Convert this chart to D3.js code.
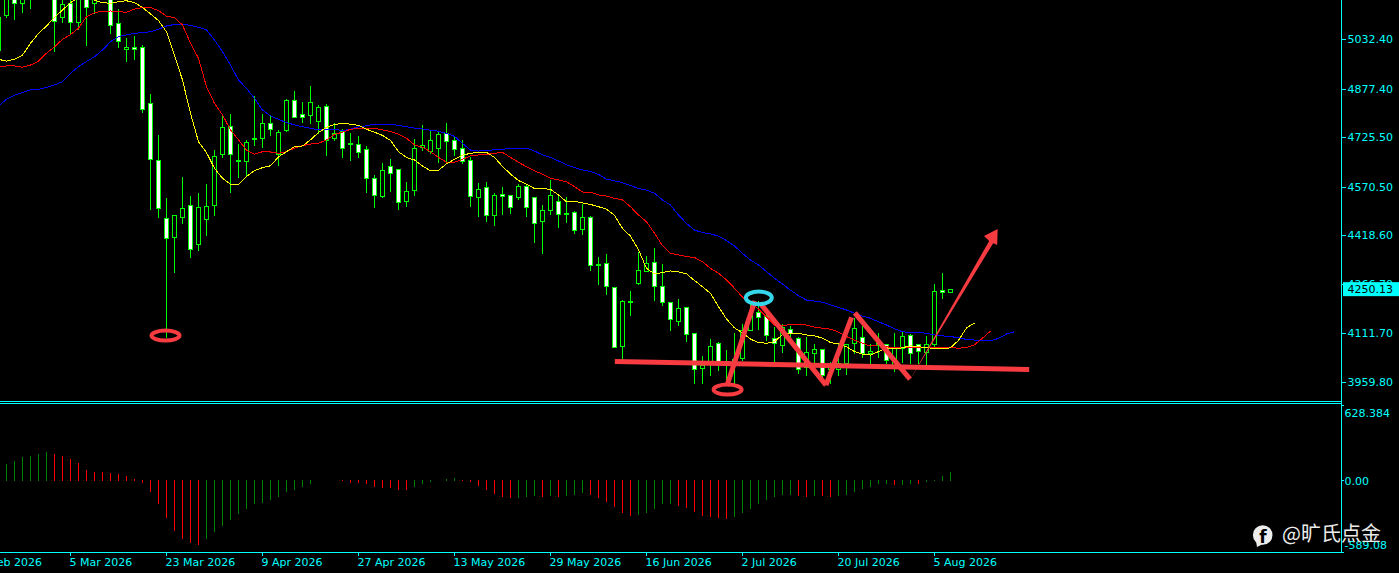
<!DOCTYPE html>
<html>
<head>
<meta charset="utf-8">
<title>chart</title>
<script src="https://cdn.jsdelivr.net/npm/d3@7/dist/d3.min.js"></script>
<style>
html, body { margin: 0; padding: 0; background: #000; overflow: hidden; }
svg { display: block; }
text { font-family: "DejaVu Sans", sans-serif; font-size: 11px; }
</style>
</head>
<body>
<svg width="1399" height="573"></svg>
<script>
// bars run from index -1 (only just visible at the left edge) to 118
const firstBar = -1;

const opens = [4998,
  5109,5175,5144,5190,5200,5190,5195,5102,5146,5084,
  5170,5146,5170,5190,5081,5000,5006,5006,4831,4653,
  4472,4412,4475,4512,4390,4469,4512,4672,4759,4653,
  4650,4722,4722,4769,4672,4747,4841,4797,4794,4775,
  4822,4722,4744,4706,4703,4687,4597,4543,4634,4625,
  4525,4559,4694,4681,4691,4737,4716,4691,4653,4537,
  4569,4481,4547,4544,4537,4572,4537,4462,4497,4525,
  4487,4490,4437,4475,4328,4331,4256,4071,4212,4268,
  4308,4334,4259,4209,4150,4193,4112,4005,4027,4081,
  4026,4032,4035,4122,4179,4166,4096,4074,4125,4096,
  4008,4052,4062,4000,4002,4018,4081,4100,4050,4085,
  4078,4008,4065,4106,4078,4053,4079,4248,4241];
const closes = [5101,
  5170,5144,5170,5165,5185,5205,5088,5142,5084,5175,
  5134,5165,5185,5077,5025,5006,5000,4815,4656,4503,
  4409,4481,4503,4375,4506,4509,4665,4756,4672,4652,
  4709,4719,4769,4750,4741,4841,4788,4788,4834,4819,
  4716,4737,4691,4703,4678,4597,4544,4622,4612,4522,
  4556,4691,4700,4716,4734,4712,4687,4650,4540,4562,
  4481,4544,4540,4506,4572,4506,4456,4497,4544,4484,
  4486,4434,4475,4325,4327,4259,4068,4212,4211,4309,
  4331,4259,4209,4156,4190,4109,4000,4013,4072,4023,
  4017,4020,4122,4175,4164,4106,4081,4133,4112,4000,
  4053,4062,3982,4010,4018,4078,4128,4050,4056,4076,
  4028,4065,4103,4050,4056,4078,4244,4241,4250];
const highs = [5101,
  5180,5190,5185,5200,5215,5220,5205,5165,5160,5190,
  5185,5180,5200,5205,5128,5038,5044,5016,4865,4734,
  4537,4484,4603,4544,4553,4581,4687,4794,4800,4706,
  4719,4856,4800,4794,4750,4847,4873,4838,4888,4828,
  4831,4772,4753,4741,4731,4700,4609,4647,4659,4628,
  4587,4722,4767,4750,4747,4772,4728,4719,4665,4584,
  4587,4553,4572,4547,4581,4581,4537,4515,4594,4547,
  4540,4497,4519,4481,4353,4362,4256,4218,4246,4368,
  4356,4381,4331,4214,4221,4193,4115,4044,4097,4087,
  4063,4116,4143,4206,4216,4175,4135,4143,4138,4104,
  4104,4081,4065,4026,4081,4078,4164,4138,4081,4115,
  4081,4115,4122,4112,4081,4107,4269,4304,4250];
const lows = [4998,
  5102,5094,5117,5129,5165,5170,4996,5084,5050,5063,
  5015,5113,5160,5052,5008,4965,4971,4805,4502,4477,
  4102,4305,4456,4350,4373,4418,4481,4662,4553,4600,
  4606,4700,4696,4731,4637,4744,4788,4772,4769,4738,
  4669,4716,4664,4655,4664,4555,4508,4539,4558,4500,
  4511,4546,4685,4675,4647,4644,4669,4644,4511,4480,
  4464,4452,4486,4489,4533,4480,4399,4364,4486,4446,
  4461,4427,4424,4311,4267,4236,4068,4031,4170,4265,
  4306,4217,4202,4121,4137,4089,3958,3958,3981,3997,
  3956,3956,4029,4122,4126,4091,4023,4053,4104,3987,
  3982,4008,3966,3956,3982,3985,4050,4039,4018,4039,
  4018,3995,4023,4018,4018,4013,4066,4222,4241];

// alligator lines, already shifted forward so they run past the last bar
const lips = [4969,
  4963,4969,4982,5019,5050,5073,5100,5123,5146,5161,
  5163,5154,5146,5144,5149,5152,5146,5131,5111,5090,
  5055,4982,4904,4800,4711,4677,4628,4597,4578,4578,
  4602,4621,4630,4636,4664,4680,4696,4698,4717,4740,
  4756,4765,4769,4766,4762,4750,4741,4731,4715,4680,
  4662,4654,4635,4620,4622,4642,4656,4669,4675,4678,
  4678,4662,4634,4610,4590,4578,4565,4565,4562,4545,
  4523,4525,4520,4515,4508,4500,4481,4440,4416,4373,
  4315,4298,4302,4307,4304,4298,4277,4258,4237,4195,
  4157,4129,4113,4094,4083,4081,4086,4108,4112,4112,
  4107,4104,4097,4083,4079,4070,4055,4047,4044,4055,
  4067,4063,4067,4073,4070,4067,4065,4063,4067,4090,
  4129,4144];
const teeth = [4944,
  4948,4948,4944,4951,4963,4988,5008,5031,5046,5066,
  5102,5115,5119,5120,5118,5116,5126,5131,5131,5121,
  5104,5099,5076,5019,4972,4883,4831,4795,4748,4717,
  4685,4672,4680,4679,4675,4680,4691,4699,4704,4706,
  4717,4734,4741,4750,4753,4753,4753,4748,4743,4735,
  4722,4701,4694,4680,4662,4647,4647,4656,4667,4670,
  4672,4675,4678,4662,4647,4633,4620,4610,4597,4592,
  4586,4571,4554,4553,4545,4541,4534,4529,4508,4482,
  4461,4425,4386,4362,4357,4352,4349,4336,4315,4300,
  4279,4253,4225,4207,4188,4163,4138,4137,4139,4140,
  4138,4131,4128,4125,4116,4102,4091,4081,4072,4076,
  4070,4067,4067,4068,4067,4067,4068,4069,4068,4065,
  4068,4076,4097,4119];
const jaw = [4823,
  4844,4857,4865,4873,4875,4881,4889,4899,4925,4946,
  4962,4977,4998,5024,5040,5045,5050,5053,5055,5063,
  5073,5078,5079,5075,5069,5061,5029,4993,4951,4904,
  4878,4847,4810,4792,4781,4771,4764,4758,4753,4748,
  4750,4750,4746,4750,4758,4761,4766,4766,4766,4762,
  4758,4754,4751,4747,4744,4737,4728,4706,4685,4682,
  4684,4686,4687,4691,4691,4691,4682,4670,4662,4651,
  4639,4630,4623,4618,4609,4594,4589,4583,4574,4565,
  4560,4550,4529,4513,4482,4456,4435,4427,4423,4416,
  4402,4385,4362,4341,4326,4305,4284,4266,4247,4230,
  4216,4213,4209,4201,4193,4185,4175,4166,4159,4148,
  4138,4126,4117,4114,4115,4112,4107,4104,4102,4098,
  4093,4091,4089,4089,4096,4110,4117];

// lower pane histogram, starts at bar 0
const osc = [136,161,194,203,219,236,219,203,178,145,
  87,70,69,62,54,37,12,-21,-95,-194,
  -310,-418,-484,-517,-533,-484,-426,-376,-327,-277,
  -236,-194,-186,-161,-136,-95,-79,-54,-29,0,
  0,0,-4,-21,-23,-29,-54,-62,-63,-79,
  -80,-54,-29,-12,0,12,21,4,-10,-45,
  -79,-112,-136,-145,-142,-136,-128,-136,-128,-136,
  -128,-120,-103,-120,-145,-178,-219,-269,-294,-285,
  -269,-236,-196,-193,-211,-227,-261,-294,-302,-310,
  -319,-302,-269,-236,-194,-161,-136,-120,-118,-128,
  -136,-128,-130,-136,-128,-120,-95,-70,-54,-31,
  -29,-38,-35,-29,-31,-12,-4,37,70];

const priceTicks = [5032.40, 4877.40, 4725.50, 4570.50, 4418.60, 4266.70, 4111.70, 3959.80];
const dateBars = [-4, 8, 20, 32, 44, 56, 68, 80, 92, 104, 116];
const dateLabels = ["17 Feb 2026", "5 Mar 2026", "23 Mar 2026", "9 Apr 2026", "27 Apr 2026", "13 May 2026",
  "29 May 2026", "16 Jun 2026", "2 Jul 2026", "20 Jul 2026", "5 Aug 2026"];
const lastPrice = 4250.13;

// hand drawn marks on the chart, as [bar, price]
const redRings = [[19.94, 4105], [90.2, 3936]];
const blueRings = [[94.1, 4223]];
const supportLine = [[76.1, 4024], [127.9, 3999]];
const zigzag = [
  [[90.1, 3947], [93.6, 4213]],
  [[94.25, 4207], [102.5, 3950]],
  [[102.5, 3950], [105.7, 4162]],
  [[106.1, 4176], [113, 3969]]
];
const arrowShape = [[112.9, 3963], [122.9, 4401], [122.25, 4416], [123.96, 4438], [123.9, 4388], [123.4, 4394]];

const axisColor = "#00ffff";
const markRed = "#f73b40";

const svg = d3.select("svg");

const x = d3.scaleLinear().domain([0, 118]).range([6, 950]);
const y = d3.scaleLinear().domain([3959.8, 5032.4]).range([382, 39]);
const yOsc = d3.scaleLinear().domain([-589.08, 628.384]).range([551.7, 404.5]);

// pixel centre of a bar
const px = i => Math.round(x(i)) + 0.5;
const py = v => Math.round(y(v)) + 0.5;

svg.append("clipPath").attr("id", "plot").append("rect")
  .attr("width", 1341).attr("height", 400);

const plot = svg.append("g").attr("clip-path", "url(#plot)");

// candles
const bars = opens.map((o, k) => ({ i: k + firstBar, o: o, c: closes[k], h: highs[k], l: lows[k] }));

plot.append("g").selectAll("line").data(bars).enter().append("line")
  .attr("x1", d => px(d.i)).attr("x2", d => px(d.i))
  .attr("y1", d => py(d.h)).attr("y2", d => py(d.l))
  .attr("stroke", "#00ff00").attr("shape-rendering", "crispEdges");

plot.append("g").selectAll("rect").data(bars).enter().append("rect")
  .attr("x", d => px(d.i) - 2)
  .attr("width", 4)
  .attr("y", d => py(Math.max(d.o, d.c)))
  .attr("height", d => Math.max(py(Math.min(d.o, d.c)) - py(Math.max(d.o, d.c)), 1))
  .attr("fill", d => d.c < d.o ? "#fff" : "#000")
  .attr("stroke", "#00ff00")
  .attr("shape-rendering", "crispEdges");

// alligator
const lineGen = d3.line().x((d, k) => x(k + firstBar) + 0.5).y(d => y(d));
[[jaw, "#0000ff"], [teeth, "#ff0000"], [lips, "#ffff00"]].forEach(s => {
  plot.append("path").attr("d", lineGen(s[0]))
    .attr("fill", "none").attr("stroke", s[1]).attr("stroke-width", 1)
    .attr("shape-rendering", "crispEdges");
});

// histogram
svg.append("g").selectAll("line").data(osc).enter().append("line")
  .attr("x1", (d, k) => px(k)).attr("x2", (d, k) => px(k))
  .attr("y1", d => yOsc(d)).attr("y2", d => d > 0 ? yOsc(0) + 1 : yOsc(0))
  .attr("stroke", (d, k) => k > 0 && d < osc[k - 1] ? "#ff0000" : "#008000")
  .attr("shape-rendering", "crispEdges");

// frame
const frame = svg.append("g").attr("stroke", axisColor).attr("shape-rendering", "crispEdges");
frame.append("line").attr("x1", 1341.5).attr("x2", 1341.5).attr("y1", 0).attr("y2", 552);
[401.5, 403.5, 552.5].forEach(v => {
  frame.append("line").attr("x1", 0).attr("x2", 1341.5).attr("y1", v).attr("y2", v);
});

// axes
const yAxis = d3.axisRight(y).tickValues(priceTicks).tickFormat(d3.format(".2f"))
  .tickSize(4).tickPadding(2);
const gy = svg.append("g").attr("transform", "translate(1341.5,0)").call(yAxis);

const oscTicks = [628.384, 0, -589.08];
const oscLabels = ["628.384", "0.00", "-589.08"];
const oscDy = [8, 0, -7];
const yOscAxis = d3.axisRight(yOsc).tickValues(oscTicks).tickFormat((d, i) => oscLabels[i])
  .tickSize(2).tickPadding(1);
const gyo = svg.append("g").attr("transform", "translate(1341.5,0)").call(yOscAxis);
gyo.selectAll("text").attr("transform", (d, i) => "translate(0," + oscDy[i] + ")");

const xAxis = d3.axisBottom(x).tickValues(dateBars).tickFormat((d, i) => dateLabels[i])
  .tickSize(3).tickPadding(3);
const gx = svg.append("g").attr("transform", "translate(0,552.5)").call(xAxis);
gx.selectAll("text").attr("text-anchor", "start").attr("dx", -1);

[gy, gyo, gx].forEach(g => {
  g.select(".domain").remove();
  g.attr("font-family", null).attr("font-size", null);
  g.selectAll("line").attr("stroke", axisColor).attr("shape-rendering", "crispEdges");
  g.selectAll("text").attr("fill", axisColor);
});

// current price box
svg.append("rect").attr("x", 1343).attr("y", y(lastPrice) - 7).attr("width", 56).attr("height", 14)
  .attr("fill", axisColor);
svg.append("text").attr("x", 1347.5).attr("y", y(lastPrice)).attr("dy", "0.36em")
  .attr("fill", "#000").text(d3.format(".2f")(lastPrice));

// drawn marks
const marks = svg.append("g").attr("fill", "none").attr("stroke", markRed);
const seg = d3.line().x(d => x(d[0])).y(d => y(d[1]));

marks.append("path").attr("d", seg(supportLine)).attr("stroke-width", 5);
marks.selectAll("path.leg").data(zigzag).enter().append("path").attr("class", "leg")
  .attr("d", d => seg(d)).attr("stroke-width", 5);
marks.append("path").attr("d", seg(arrowShape) + "Z").attr("fill", markRed).attr("stroke", "none");

marks.selectAll("ellipse.r").data(redRings).enter().append("ellipse").attr("class", "r")
  .attr("cx", d => x(d[0])).attr("cy", d => y(d[1]))
  .attr("rx", 14).attr("ry", 5).attr("stroke-width", 4);
marks.selectAll("ellipse.b").data(blueRings).enter().append("ellipse").attr("class", "b")
  .attr("cx", d => x(d[0])).attr("cy", d => y(d[1]))
  .attr("rx", 13).attr("ry", 6.3).attr("stroke", "#35d6ea").attr("stroke-width", 4);

// watermark
const wm = svg.append("g").attr("fill", "#ececec");
wm.append("circle").attr("cx", 1262.7).attr("cy", 535).attr("r", 9.8);
wm.append("path").attr("d", "M1256 541 L1257 547 L1263 544 Z");
wm.append("text").attr("x", 1263).attr("y", 543).attr("text-anchor", "middle")
  .attr("fill", "#000").style("font-size", "17px").style("font-weight", "bold").text("f");
wm.append("text").attr("x", 1282).attr("y", 541)
  .style("font-family", '"Noto Sans CJK SC"').style("font-size", "20px").text("@旷氏点金");
</script>
</body>
</html>
